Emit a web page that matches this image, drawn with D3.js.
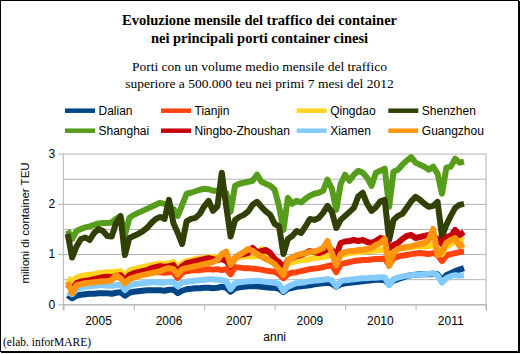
<!DOCTYPE html>
<html>
<head>
<meta charset="utf-8">
<script src="https://cdn.jsdelivr.net/npm/d3@7"></script>
<style>
  body { margin: 0; background: #fff; }
  svg { display: block; }
  .sans { font-family: "Liberation Sans", Arial, sans-serif; }
  .serif { font-family: "Liberation Serif", "Times New Roman", serif; }
</style>
</head>
<body>
<div id="chart"></div>
<script>
// --- dati: milioni di TEU al mese, gen 2005 -> lug 2012 ---
const porti = ["Dalian", "Tianjin", "Qingdao", "Shenzhen", "Shanghai", "Ningbo-Zhoushan", "Xiamen", "Guangzhou"];
const colori = ["#004586", "#ff420e", "#ffd320", "#314004", "#579d1c", "#c5000b", "#83caff", "#ff950e"];

const dalian = [
  0.18, 0.12, 0.17, 0.19, 0.20, 0.21, 0.21, 0.22, 0.22, 0.22, 0.21, 0.23,
  0.24, 0.17, 0.23, 0.25, 0.26, 0.27, 0.28, 0.28, 0.28, 0.28, 0.27, 0.29,
  0.29, 0.22, 0.27, 0.30, 0.31, 0.32, 0.32, 0.33, 0.33, 0.32, 0.33, 0.35,
  0.33, 0.25, 0.32, 0.34, 0.35, 0.36, 0.36, 0.36, 0.35, 0.34, 0.33, 0.33,
  0.31, 0.24, 0.31, 0.33, 0.35, 0.36, 0.37, 0.38, 0.40, 0.41, 0.42, 0.43,
  0.41, 0.35, 0.40, 0.42, 0.43, 0.44, 0.45, 0.46, 0.47, 0.48, 0.49, 0.49,
  0.48, 0.40, 0.47, 0.50, 0.53, 0.56, 0.58, 0.59, 0.60, 0.60, 0.60, 0.61,
  0.60, 0.48, 0.58, 0.62, 0.66, 0.69, 0.72];
const tianjin = [
  0.42, 0.32, 0.45, 0.48, 0.50, 0.51, 0.52, 0.52, 0.53, 0.54, 0.53, 0.55,
  0.56, 0.45, 0.56, 0.59, 0.60, 0.61, 0.62, 0.63, 0.64, 0.64, 0.63, 0.64,
  0.64, 0.52, 0.63, 0.66, 0.67, 0.68, 0.68, 0.69, 0.70, 0.69, 0.70, 0.68,
  0.70, 0.60, 0.74, 0.73, 0.72, 0.72, 0.71, 0.70, 0.69, 0.67, 0.66, 0.65,
  0.60, 0.52, 0.60, 0.63, 0.64, 0.66, 0.68, 0.70, 0.71, 0.72, 0.74, 0.76,
  0.78, 0.64, 0.80, 0.82, 0.84, 0.86, 0.87, 0.88, 0.88, 0.89, 0.90, 0.90,
  0.91, 0.78, 0.92, 0.95, 0.97, 0.98, 1.00, 1.01, 1.02, 1.01, 1.00, 1.02,
  0.98, 0.86, 0.97, 1.00, 1.02, 1.04, 1.05];
const qingdao = [
  0.52, 0.45, 0.53, 0.56, 0.58, 0.59, 0.60, 0.62, 0.63, 0.64, 0.64, 0.65,
  0.66, 0.56, 0.67, 0.70, 0.72, 0.74, 0.76, 0.78, 0.80, 0.81, 0.80, 0.82,
  0.84, 0.72, 0.82, 0.86, 0.88, 0.90, 0.91, 0.92, 0.94, 0.93, 0.94, 0.96,
  0.92, 0.80, 0.92, 0.94, 0.95, 0.96, 0.95, 0.96, 1.10, 0.95, 0.90, 0.88,
  0.84, 0.72, 0.82, 0.84, 0.86, 0.88, 0.88, 0.90, 0.92, 0.93, 0.94, 0.96,
  0.98, 0.85, 0.98, 1.00, 1.02, 1.03, 1.04, 1.05, 1.06, 1.06, 1.07, 1.08,
  1.08, 0.98, 1.08, 1.10, 1.12, 1.13, 1.14, 1.15, 1.16, 1.15, 1.16, 1.18,
  1.10, 1.00, 1.15, 1.20, 1.26, 1.30, 1.28];
const shenzhen = [
  1.40, 0.93, 1.15, 1.30, 1.33, 1.28, 1.42, 1.50, 1.46, 1.36, 1.35, 1.62,
  1.75, 0.98, 1.32, 1.36, 1.40, 1.45, 1.52, 1.62, 1.70, 1.74, 1.70, 2.08,
  1.62, 1.42, 1.20, 1.65, 1.70, 1.72, 1.80, 1.95, 2.06, 1.86, 1.95, 2.62,
  1.95, 1.35, 1.68, 1.74, 1.78, 1.85, 1.98, 2.04, 1.94, 1.85, 1.78, 1.60,
  1.55, 1.00, 1.30, 1.36, 1.46, 1.42, 1.55, 1.70, 1.68, 1.72, 1.82, 1.96,
  1.84, 1.52, 1.68, 1.76, 1.84, 1.92, 2.15, 2.22, 2.00, 1.86, 1.93, 2.05,
  2.08, 1.28, 1.68, 1.76, 1.80, 1.92, 2.05, 2.14, 2.08, 2.00, 1.94, 1.96,
  2.04, 1.35, 1.58, 1.76, 1.92, 1.98, 2.00];
const shanghai = [
  1.47, 1.30, 1.46, 1.50, 1.53, 1.55, 1.58, 1.61, 1.62, 1.62, 1.63, 1.70,
  1.76, 1.38, 1.72, 1.78, 1.82, 1.86, 1.90, 1.94, 1.98, 2.02, 2.00, 1.93,
  1.90, 1.76, 1.98, 2.20, 2.22, 2.25, 2.28, 2.30, 2.29, 2.26, 2.26, 2.25,
  2.22, 1.84, 2.36, 2.40, 2.42, 2.44, 2.46, 2.58, 2.44, 2.40, 2.36, 2.28,
  1.95, 1.48, 2.12, 2.00, 2.06, 2.03, 2.10, 2.16, 2.20, 2.22, 2.26, 2.48,
  2.30, 1.88, 2.40, 2.58, 2.46, 2.58, 2.66, 2.62, 2.52, 2.36, 2.62, 2.66,
  2.70, 1.94, 2.64, 2.68, 2.78, 2.86, 2.93, 2.82, 2.78, 2.74, 2.68, 2.74,
  2.60, 2.20, 2.72, 2.74, 2.90, 2.82, 2.84];
const ningbo = [
  0.40, 0.30, 0.42, 0.45, 0.47, 0.48, 0.50, 0.52, 0.54, 0.55, 0.54, 0.56,
  0.58, 0.48, 0.58, 0.62, 0.64, 0.66, 0.68, 0.72, 0.74, 0.76, 0.75, 0.76,
  0.78, 0.65, 0.76, 0.82, 0.84, 0.86, 0.88, 0.90, 0.92, 0.90, 0.88, 0.90,
  0.86, 0.76, 0.92, 0.98, 1.00, 1.02, 1.12, 1.04, 1.06, 1.08, 1.02, 0.90,
  0.84, 0.72, 0.88, 0.92, 0.96, 0.98, 1.02, 1.06, 1.04, 1.02, 1.05, 1.10,
  1.08, 0.98, 1.22, 1.25, 1.26, 1.28, 1.26, 1.28, 1.24, 1.22, 1.26, 1.32,
  1.30, 1.12, 1.18, 1.22, 1.30, 1.36, 1.38, 1.32, 1.34, 1.36, 1.38, 1.36,
  1.30, 1.20, 1.34, 1.36, 1.48, 1.38, 1.44];
const xiamen = [
  0.24, 0.20, 0.30, 0.33, 0.35, 0.36, 0.37, 0.38, 0.38, 0.37, 0.37, 0.38,
  0.39, 0.28, 0.37, 0.40, 0.41, 0.42, 0.43, 0.44, 0.44, 0.43, 0.43, 0.45,
  0.44, 0.36, 0.43, 0.45, 0.46, 0.47, 0.48, 0.49, 0.50, 0.50, 0.49, 0.48,
  0.46, 0.30, 0.42, 0.44, 0.45, 0.46, 0.46, 0.47, 0.46, 0.45, 0.44, 0.43,
  0.40, 0.26, 0.35, 0.39, 0.42, 0.43, 0.44, 0.46, 0.47, 0.48, 0.49, 0.50,
  0.48, 0.36, 0.46, 0.48, 0.49, 0.50, 0.51, 0.52, 0.52, 0.53, 0.53, 0.54,
  0.54, 0.38, 0.50, 0.53, 0.55, 0.57, 0.58, 0.59, 0.59, 0.60, 0.61, 0.62,
  0.58, 0.43, 0.52, 0.56, 0.58, 0.57, 0.58];
const guangzhou = [
  0.45, 0.22, 0.38, 0.40, 0.42, 0.43, 0.44, 0.45, 0.46, 0.46, 0.48, 0.58,
  0.52, 0.42, 0.50, 0.53, 0.56, 0.58, 0.60, 0.62, 0.64, 0.66, 0.70, 0.72,
  0.70, 0.60, 0.70, 0.72, 0.74, 0.76, 0.78, 0.80, 0.82, 0.84, 0.88, 1.00,
  1.05, 0.78, 0.92, 0.98, 1.04, 1.10, 1.06, 1.00, 0.95, 0.90, 0.86, 0.80,
  0.70, 0.58, 0.88, 0.92, 0.98, 1.00, 1.02, 1.04, 1.05, 1.08, 1.12, 1.26,
  1.02, 0.78, 1.00, 1.04, 1.06, 1.06, 1.08, 1.08, 1.10, 1.12, 1.18, 1.22,
  1.30, 0.76, 1.02, 1.10, 1.12, 1.14, 1.15, 1.18, 1.20, 1.22, 1.28, 1.50,
  0.98, 1.05, 1.22, 1.28, 1.32, 1.16, 1.20];

const anniLabels = ["2005", "2006", "2007", "2009", "2010", "2011"];
const yTicks = [0, 1, 2, 3];
const yGrid = [0, 0.5, 1, 1.5, 2, 2.5, 3];

const valori = [dalian, tianjin, qingdao, shenzhen, shanghai, ningbo, xiamen, guangzhou];
const serie = porti.map((p, k) => ({ nome: p, colore: colori[k], valori: valori[k] }));
// ordine di disegno (le arancioni sopra)
const ordine = ["Dalian", "Tianjin", "Qingdao", "Shanghai", "Shenzhen", "Ningbo-Zhoushan", "Xiamen", "Guangzhou"];

const width = 521, height = 354;
const area = { left: 63.3, right: 486, top: 153.6, bottom: 304.3 };

const svg = d3.select("#chart").append("svg")
  .attr("width", width).attr("height", height);

// cornice esterna
svg.append("rect").attr("x", 0.5).attr("y", 0.5).attr("width", 518).attr("height", 351)
  .attr("fill", "#fff").attr("stroke", "#000");
svg.append("line").attr("x1", 519.5).attr("x2", 519.5).attr("y1", 1).attr("y2", 353).attr("stroke", "#000");
svg.append("line").attr("x1", 1).attr("x2", 520).attr("y1", 352.5).attr("y2", 352.5).attr("stroke", "#000");

// titoli
const titoli = [
  { t: "Evoluzione mensile del traffico dei container", y: 25, w: "bold", s: 14.5 },
  { t: "nei principali porti container cinesi", y: 43, w: "bold", s: 14.5 },
  { t: "Porti con un volume medio mensile del traffico", y: 70.5, w: "normal", s: 13.5 },
  { t: "superiore a 500.000 teu nei primi 7 mesi del 2012", y: 87.5, w: "normal", s: 13.5 }
];
svg.selectAll("text.titolo").data(titoli).join("text")
  .attr("class", "titolo serif")
  .attr("x", 259.5).attr("y", d => d.y)
  .attr("text-anchor", "middle")
  .attr("font-size", d => d.s).attr("font-weight", d => d.w)
  .text(d => d.t);

// scale
const x = d3.scaleLinear().domain([-1, 95]).range([area.left, area.right]);
const y = d3.scaleLinear().domain([0, 3]).range([area.bottom, area.top]);
const xLab = d3.scaleBand().domain(anniLabels).range([area.left, area.right]);

// griglia
svg.append("g")
  .attr("transform", `translate(${area.left},0)`)
  .call(d3.axisLeft(y).tickValues(yGrid).tickSize(-(area.right - area.left)).tickFormat(""))
  .call(g => g.select(".domain").remove())
  .call(g => g.selectAll("line").attr("stroke", "#b3b3b3"));

// asse y
svg.append("g")
  .attr("transform", `translate(${area.left},0)`)
  .call(d3.axisLeft(y).tickValues(yTicks).tickSize(5).tickPadding(3).tickFormat(d3.format("d")))
  .call(g => g.select(".domain").attr("stroke", "#b3b3b3").attr("d", `M0,${area.top}V${area.bottom + 6}`))
  .call(g => g.selectAll("line").attr("stroke", "#b3b3b3"))
  .call(g => g.selectAll("text").attr("class", "sans").attr("font-size", 12).attr("fill", "#000"));

// asse x: tacche ogni 16 mesi, etichette al centro
svg.append("g")
  .attr("transform", `translate(0,${area.bottom})`)
  .call(d3.axisBottom(x).tickValues(d3.range(-1, 96, 16)).tickSize(6).tickFormat(""))
  .call(g => g.select(".domain").attr("stroke", "#b3b3b3"))
  .call(g => g.selectAll("line").attr("stroke", "#b3b3b3"));
svg.append("g")
  .attr("transform", `translate(0,${area.bottom})`)
  .call(d3.axisBottom(xLab).tickSize(0).tickPadding(12))
  .call(g => g.select(".domain").remove())
  .call(g => g.selectAll("text").attr("class", "sans").attr("font-size", 12).attr("fill", "#000"));

// bordo destro dell'area
svg.append("line")
  .attr("x1", area.right).attr("x2", area.right).attr("y1", area.top).attr("y2", area.bottom + 6)
  .attr("stroke", "#b3b3b3");

// linee
const linea = d3.line().x((d, i) => x(i)).y(d => y(d));
svg.append("g").selectAll("path")
  .data(ordine.map(n => serie.find(s => s.nome === n)))
  .join("path")
  .attr("d", d => linea(d.valori))
  .attr("fill", "none")
  .attr("stroke", d => d.colore)
  .attr("stroke-width", 6)
  .attr("stroke-linejoin", "round");

// legenda 4 x 2
const colX = [65, 161, 296.7, 388.3];
const rowY = [110.7, 130.7];
const leg = svg.append("g").selectAll("g").data(serie).join("g")
  .attr("transform", (d, k) => `translate(${colX[k % 4]},${rowY[Math.floor(k / 4)]})`);
leg.append("line").attr("x1", 0).attr("x2", 30)
  .attr("stroke", d => d.colore).attr("stroke-width", 4.5);
leg.append("text").attr("class", "sans")
  .attr("x", 33.5).attr("y", 4.3).attr("font-size", 12)
  .text(d => d.nome);

// titoli assi e nota
svg.append("text").attr("class", "sans")
  .attr("transform", "translate(29,223) rotate(-90)")
  .attr("text-anchor", "middle").attr("font-size", 11.5)
  .text("milioni di container TEU");
svg.append("text").attr("class", "sans")
  .attr("x", (area.left + area.right) / 2).attr("y", 341)
  .attr("text-anchor", "middle").attr("font-size", 12)
  .text("anni");
svg.append("text").attr("class", "serif")
  .attr("x", 3).attr("y", 345.5).attr("font-size", 11.5)
  .text("(elab. inforMARE)");
</script>
</body>
</html>
